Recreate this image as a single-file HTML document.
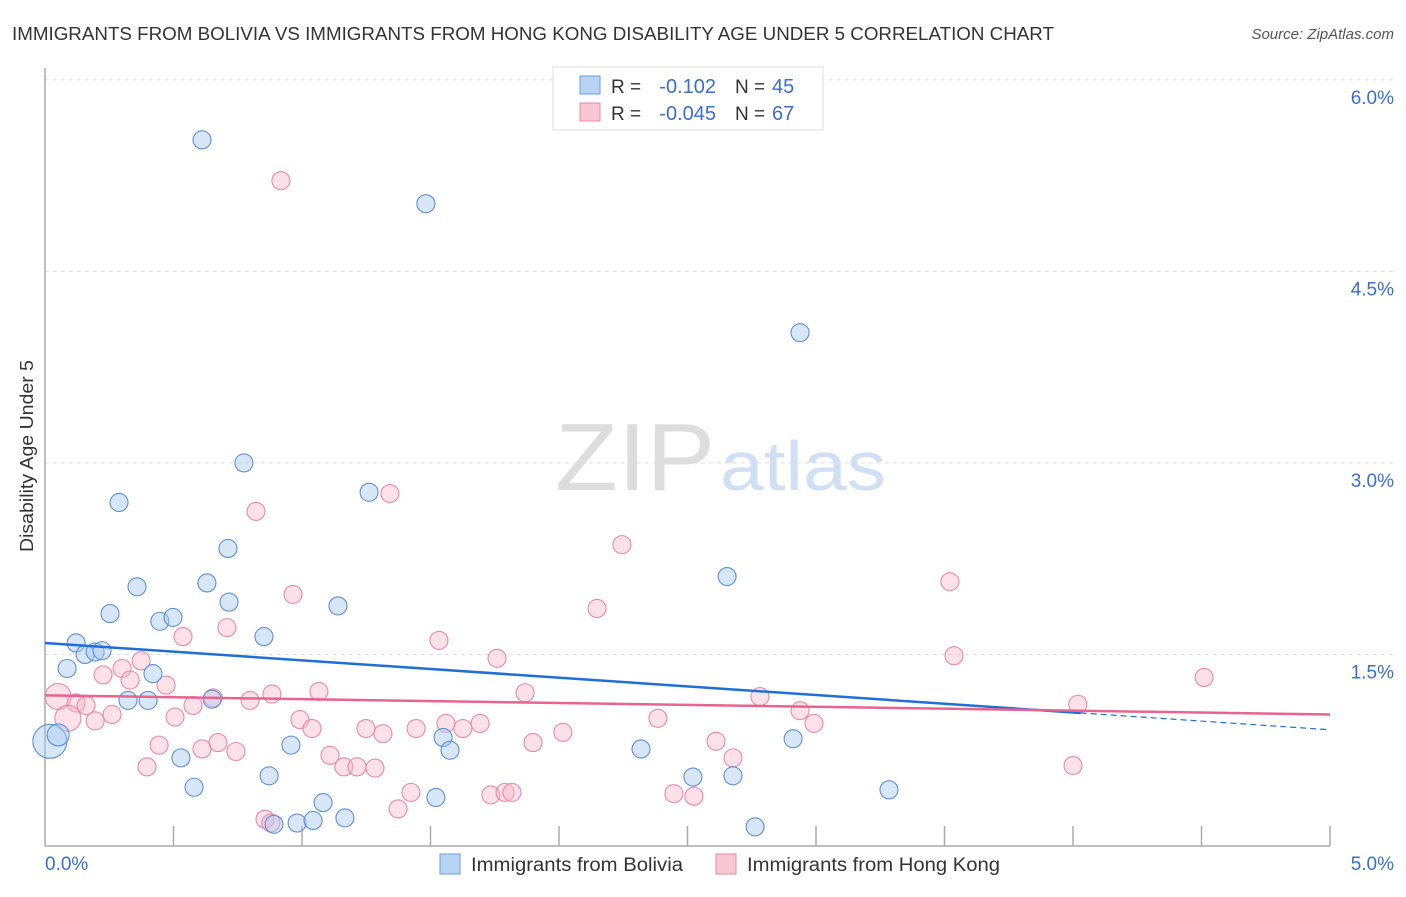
<!DOCTYPE html>
<html><head><meta charset="utf-8"><style>
body{margin:0;background:#fff;font-family:"Liberation Sans",sans-serif;}
svg text{font-family:"Liberation Sans",sans-serif;}
</style></head><body>
<svg width="1406" height="892">
<text x="12" y="40" font-size="18" fill="#333" textLength="1042" lengthAdjust="spacingAndGlyphs">IMMIGRANTS FROM BOLIVIA VS IMMIGRANTS FROM HONG KONG DISABILITY AGE UNDER 5 CORRELATION CHART</text>
<text x="1394" y="39" font-size="15" fill="#555" text-anchor="end" font-style="italic">Source: ZipAtlas.com</text>
<g id="grid"></g>
<text x="555" y="490" font-size="96" fill="#ddd" textLength="160" lengthAdjust="spacingAndGlyphs" font-family="Liberation Serif">ZIP</text>
<text x="720" y="490" font-size="70" fill="#cfe0f5" textLength="166" lengthAdjust="spacingAndGlyphs">atlas</text>
<g id="axes"></g>
<g id="pts"></g>
<g id="trends"></g>
<text x="33" y="456" font-size="18" fill="#333" text-anchor="middle" textLength="192" lengthAdjust="spacingAndGlyphs" transform="rotate(-90 33 456)">Disability Age Under 5</text>
<text x="45" y="870" font-size="19" fill="#3a6fd0">0.0%</text>
<text x="1394" y="870" font-size="19" fill="#3a6fd0" text-anchor="end">5.0%</text>
<g>
<rect x="553" y="67" width="270" height="63" fill="#fff" stroke="#ddd"/>
<rect x="580" y="76" width="20" height="18" fill="#b8d4f5" stroke="#6a9de0"/>
<rect x="580" y="103" width="20" height="18" fill="#f9c6d4" stroke="#e889a8"/>
<text x="611" y="93" font-size="19" fill="#333">R =</text>
<text x="716" y="93" font-size="20" fill="#3a6fd0" text-anchor="end">-0.102</text>
<text x="735" y="93" font-size="19" fill="#333">N =</text>
<text x="772" y="93" font-size="20" fill="#3a6fd0">45</text>
<text x="611" y="120" font-size="19" fill="#333">R =</text>
<text x="716" y="120" font-size="20" fill="#3a6fd0" text-anchor="end">-0.045</text>
<text x="735" y="120" font-size="19" fill="#333">N =</text>
<text x="772" y="120" font-size="20" fill="#3a6fd0">67</text>
</g>
<g>
<rect x="440" y="854" width="20" height="20" fill="#b8d4f5" stroke="#6a9de0"/>
<text x="471" y="871" font-size="19" fill="#333" textLength="212" lengthAdjust="spacingAndGlyphs">Immigrants from Bolivia</text>
<rect x="716" y="854" width="20" height="20" fill="#f9c6d4" stroke="#e889a8"/>
<text x="747" y="871" font-size="19" fill="#333" textLength="253" lengthAdjust="spacingAndGlyphs">Immigrants from Hong Kong</text>
</g>
</svg>
<script>
const yTicks=[1.5,3.0,4.5,6.0];
const yTickLabels=["1.5%","3.0%","4.5%","6.0%"];
const xTicks=[0.5,1,1.5,2,2.5,3,3.5,4,4.5,5];
const bolX=[0.611,1.482,2.938,0.774,1.261,0.288,0.712,0.358,0.630,2.654,0.253,0.716,1.140,0.447,0.498,0.852,0.121,0.156,0.195,0.222,0.086,0.420,0.323,0.401,0.650,0.019,0.051,0.529,0.957,1.549,1.576,2.319,2.911,0.872,0.580,2.521,2.677,3.284,1.521,1.082,0.891,0.981,1.043,1.167,2.763];
const bolY=[5.53,5.03,4.02,3.00,2.77,2.69,2.33,2.03,2.06,2.11,1.82,1.91,1.88,1.76,1.79,1.64,1.59,1.50,1.52,1.53,1.39,1.35,1.14,1.14,1.15,0.82,0.87,0.69,0.79,0.85,0.75,0.76,0.84,0.55,0.46,0.54,0.55,0.44,0.38,0.34,0.17,0.18,0.20,0.22,0.15];
const bolR=[9,9,9,9,9,9,9,9,9,9,9,9,9,9,9,9,9,9,9,9,9,9,9,9,9,17,11,9,9,9,9,9,9,9,9,9,9,9,9,9,9,9,9,9,9];
const hkX=[0.918,1.342,0.821,2.245,3.521,0.965,2.148,0.708,0.537,1.533,3.537,1.759,0.374,0.300,0.226,0.331,0.471,4.510,1.066,0.883,1.868,2.782,0.051,0.654,0.798,0.121,0.160,0.576,4.019,2.938,0.261,0.506,0.089,0.195,2.385,0.992,1.039,2.992,1.693,1.560,1.444,1.249,1.626,1.315,2.015,0.444,0.673,0.611,0.743,1.109,2.611,1.899,2.677,0.397,1.163,1.214,1.284,4.000,1.424,1.735,1.790,1.817,2.447,2.525,1.374,0.856,0.879];
const hkY=[5.21,2.76,2.62,2.36,2.07,1.97,1.86,1.71,1.64,1.61,1.49,1.47,1.45,1.39,1.34,1.30,1.26,1.32,1.21,1.19,1.20,1.17,1.17,1.16,1.14,1.12,1.10,1.10,1.11,1.06,1.03,1.01,1.00,0.98,1.00,0.99,0.92,0.96,0.96,0.96,0.92,0.92,0.92,0.88,0.89,0.79,0.81,0.76,0.74,0.71,0.82,0.81,0.69,0.62,0.62,0.62,0.61,0.63,0.42,0.40,0.42,0.42,0.41,0.39,0.29,0.21,0.18];
const hkLarge=[22,32];
const bolTrend=[1.59,0.91];
const hkTrend=[1.18,1.03];
const bolSolidEnd=4.03;
const X=v=>45+v/5*1285, Y=v=>846-v*127.7;
const NS="http://www.w3.org/2000/svg";
function mk(t,a,p){const e=document.createElementNS(NS,t);for(const k in a)e.setAttribute(k,a[k]);p.appendChild(e);return e;}
const grid=document.getElementById('grid'),axes=document.getElementById('axes'),pts=document.getElementById('pts'),tr=document.getElementById('trends');
yTicks.forEach((t,i)=>{
 const l=mk('line',{x1:45,x2:1394,y1:Y(t),y2:Y(t),stroke:'#ddd','stroke-dasharray':'4,4'},grid);
 
 
 const tx=mk('text',{x:1394,y:Y(t)+24,'font-size':19,fill:'#3a6fd0','text-anchor':'end'},grid);
 tx.textContent=yTickLabels[i];
 
 
});
const ya=mk('line',{x1:45,x2:45,y1:68,y2:846,stroke:'#aaa','stroke-width':1.5},axes);


const xa=mk('line',{x1:45,x2:1330,y1:846,y2:846,stroke:'#aaa','stroke-width':1.5},axes);


xTicks.forEach(t=>{
 const l=mk('line',{x1:X(t),x2:X(t),y1:826,y2:846,stroke:'#aaa','stroke-width':1.5},axes);
 
 
});
hkX.forEach((x,i)=>{
 const c=mk('circle',{cx:X(x),cy:Y(hkY[i]),r:hkLarge.includes(i)?13:9,fill:'#f7b8cb','fill-opacity':0.42,stroke:'#e889a8','stroke-width':1.1},pts);
 
 
});
bolX.forEach((x,i)=>{
 const c=mk('circle',{cx:X(x),cy:Y(bolY[i]),r:bolR[i],fill:'#a9c9f0','fill-opacity':0.45,stroke:'#5b8fd8','stroke-width':1.1},pts);
 
 
});
const by=v=>bolTrend[0]+(bolTrend[1]-bolTrend[0])*v/5;
const b1=mk('line',{x1:X(0),y1:Y(bolTrend[0]),x2:X(bolSolidEnd),y2:Y(by(bolSolidEnd)),stroke:'#1f6fd6','stroke-width':2.5},tr);


const b2=mk('line',{x1:X(bolSolidEnd),y1:Y(by(bolSolidEnd)),x2:X(5),y2:Y(bolTrend[1]),stroke:'#1f6fd6','stroke-width':1.2,'stroke-dasharray':'6,4'},tr);


const h=mk('line',{x1:X(0),y1:Y(hkTrend[0]),x2:X(5),y2:Y(hkTrend[1]),stroke:'#e8638f','stroke-width':2.5},tr);


</script>
</body></html>
